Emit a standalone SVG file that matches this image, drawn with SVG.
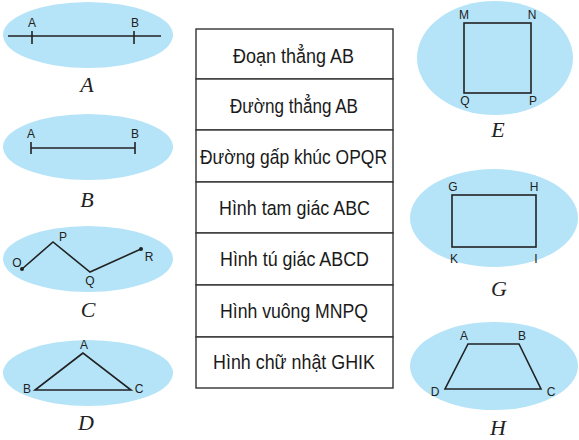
<svg xmlns="http://www.w3.org/2000/svg" width="579" height="440" viewBox="0 0 579 440">
<style>
.ell{fill:#b5e4f8;stroke:none}
.shp{fill:none;stroke:#222;stroke-width:1.6;stroke-linejoin:miter}
.lbl{font-family:"Liberation Sans",Arial,sans-serif;font-size:12px;fill:#222;text-anchor:middle}
.scr{font-family:"Liberation Serif","Times New Roman",serif;font-style:italic;font-size:22px;fill:#222;text-anchor:middle}
.cell{fill:#fff;stroke:#333;stroke-width:1.4}
.ct{font-family:"Liberation Sans",Arial,sans-serif;font-size:20.5px;fill:#1a1a1a}
</style>
<rect width="579" height="440" fill="#fff"/>
<g id="figA">
<ellipse class="ell" cx="88" cy="35" rx="85" ry="33"/>
<line class="shp" x1="8" y1="36" x2="161" y2="36" stroke-width="2"/>
<line class="shp" x1="32" y1="31" x2="32" y2="44"/>
<line class="shp" x1="134" y1="31" x2="134" y2="44"/>
<text class="lbl" x="32" y="27">A</text>
<text class="lbl" x="135" y="27">B</text>
<text class="scr" x="87" y="92">A</text>
</g>
<g id="figB">
<ellipse class="ell" cx="88" cy="147" rx="85" ry="33"/>
<line class="shp" x1="31" y1="148" x2="135" y2="148"/>
<line class="shp" x1="31" y1="142" x2="31" y2="154"/>
<line class="shp" x1="135" y1="142" x2="135" y2="154"/>
<text class="lbl" x="31" y="138">A</text>
<text class="lbl" x="135" y="138">B</text>
<text class="scr" x="87" y="207">B</text>
</g>
<g id="figC">
<ellipse class="ell" cx="88" cy="259" rx="85" ry="33"/>
<polyline class="shp" points="22,269 53,242 90,272 141,249"/>
<circle cx="22" cy="269" r="2" fill="#222"/>
<circle cx="141" cy="249" r="2" fill="#222"/>
<text class="lbl" x="17" y="267">O</text>
<text class="lbl" x="63" y="241">P</text>
<text class="lbl" x="90" y="285">Q</text>
<text class="lbl" x="149" y="261">R</text>
<text class="scr" x="88" y="317">C</text>
</g>
<g id="figD">
<ellipse class="ell" cx="88" cy="373" rx="85" ry="33"/>
<polygon class="shp" points="83,353 35,390 131,390"/>
<text class="lbl" x="84" y="349">A</text>
<text class="lbl" x="27" y="393">B</text>
<text class="lbl" x="139" y="393">C</text>
<text class="scr" x="86" y="430">D</text>
</g>
<g id="table">
<rect class="cell" x="196" y="29" width="197" height="50"/>
<rect class="cell" x="196" y="79" width="197" height="51"/>
<rect class="cell" x="196" y="130" width="197" height="52"/>
<rect class="cell" x="196" y="182" width="197" height="51"/>
<rect class="cell" x="196" y="233" width="197" height="52"/>
<rect class="cell" x="196" y="285" width="197" height="52"/>
<rect class="cell" x="196" y="337" width="197" height="51"/>
<text class="ct" x="233" y="63" textLength="121" lengthAdjust="spacingAndGlyphs">Đoạn thẳng AB</text>
<text class="ct" x="230" y="113" textLength="128" lengthAdjust="spacingAndGlyphs">Đường thẳng AB</text>
<text class="ct" x="200" y="164" textLength="187" lengthAdjust="spacingAndGlyphs">Đường gấp khúc OPQR</text>
<text class="ct" x="219" y="215" textLength="151" lengthAdjust="spacingAndGlyphs">Hình tam giác ABC</text>
<text class="ct" x="220" y="266" textLength="149" lengthAdjust="spacingAndGlyphs">Hình tú giác ABCD</text>
<text class="ct" x="220" y="318" textLength="148" lengthAdjust="spacingAndGlyphs">Hình vuông MNPQ</text>
<text class="ct" x="213" y="369" textLength="162" lengthAdjust="spacingAndGlyphs">Hình chữ nhật GHIK</text>
</g>
<g id="figE">
<ellipse class="ell" cx="495" cy="58" rx="78" ry="57"/>
<rect class="shp" x="464" y="23" width="67" height="70"/>
<text class="lbl" x="464" y="19">M</text>
<text class="lbl" x="532" y="19">N</text>
<text class="lbl" x="465" y="105">Q</text>
<text class="lbl" x="533" y="105">P</text>
<text class="scr" x="498" y="137">E</text>
</g>
<g id="figG">
<ellipse class="ell" cx="494" cy="218" rx="84" ry="49"/>
<rect class="shp" x="452" y="195" width="84" height="52"/>
<text class="lbl" x="453" y="191">G</text>
<text class="lbl" x="534" y="191">H</text>
<text class="lbl" x="454" y="263">K</text>
<text class="lbl" x="536" y="263">I</text>
<text class="scr" x="499" y="296">G</text>
</g>
<g id="figH">
<ellipse class="ell" cx="494" cy="366" rx="84" ry="44"/>
<polygon class="shp" points="468,344 519,344 541,389 445,389"/>
<text class="lbl" x="464" y="340">A</text>
<text class="lbl" x="522" y="340">B</text>
<text class="lbl" x="435" y="396">D</text>
<text class="lbl" x="551" y="396">C</text>
<text class="scr" x="498" y="435">H</text>
</g>
</svg>
